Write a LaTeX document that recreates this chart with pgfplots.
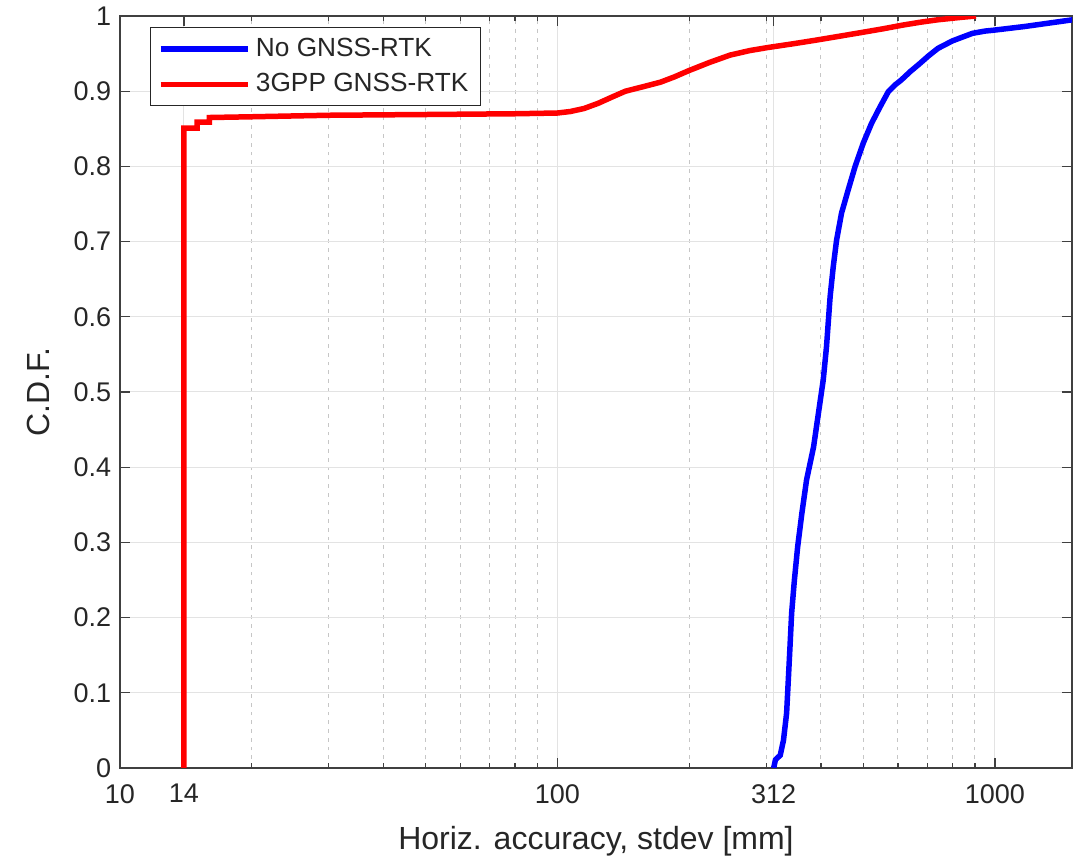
\documentclass[border=0pt]{standalone}
\usepackage{fontspec}
\setmainfont{Liberation Sans}
\usepackage{pgfplots}
\pgfplotsset{compat=1.18}
\definecolor{txtgray}{RGB}{38,38,38}
\definecolor{axgray}{RGB}{64,64,64}
\begin{document}
\begin{tikzpicture}
\begin{semilogxaxis}[
    scale only axis,
    width=380.8pt, height=300.8pt,
    xmin=10, xmax=1500, ymin=0, ymax=1,
    xtick={10,14,100,312,1000},
    xticklabels={10,14,100,312,1000},
    minor xtick={20,30,40,50,60,70,80,90,200,300,400,500,600,700,800,900},
    ytick={0,0.1,0.2,0.3,0.4,0.5,0.6,0.7,0.8,0.9,1},
    yticklabels={0,0.1,0.2,0.3,0.4,0.5,0.6,0.7,0.8,0.9,1},
    grid=both,
    major grid style={draw=gray!22, line width=0.4pt},
    minor grid style={draw=gray!45, line width=0.4pt, dash pattern=on 1.5pt off 2pt},
    tick align=inside,
    major tick length=4pt, minor tick length=2pt,
    axis line style={draw=axgray, line width=0.5pt},
    every tick/.style={draw=axgray, line width=0.5pt},
    tick label style={font=\fontsize{10.8}{13}\selectfont, text=txtgray},
    xticklabel style={yshift=-3pt},
    label style={font=\fontsize{12.8}{15}\selectfont, text=txtgray},
    xlabel={Horiz. accuracy, stdev [mm]},
    ylabel={C.D.F.},
    xlabel style={at={(axis description cs:0.5,-0.0971)}, anchor=center},
    ylabel style={at={(axis description cs:-0.0861,0.5)}, anchor=center},
    legend style={at={(0.0315,0.985)}, anchor=north west, draw=black!85,
        fill=white, font=\fontsize{10.5}{13}\selectfont, text=txtgray,
        row sep=1.5pt, inner xsep=3pt, inner ysep=2pt, cells={anchor=west}},
    legend image code/.code={\draw[#1] (0pt,0pt) -- (35pt,0pt);},
]
\addplot[blue, line width=2.2pt] coordinates {
    (312,0) (315,0.011) (323,0.017) (328.6,0.037) (334,0.073) (337,0.117)
    (340,0.161) (343,0.206) (348,0.25) (354,0.294) (362,0.339) (371,0.383)
    (385,0.427) (395,0.472) (405,0.516) (412,0.56) (420,0.627) (427,0.667)
    (434.5,0.702) (446,0.738) (462,0.769) (479,0.80) (500,0.831) (522,0.857)
    (546,0.879) (570,0.899) (590,0.908) (611,0.915) (640,0.926) (674,0.937)
    (705,0.947) (741,0.957) (800,0.967) (889,0.977) (950,0.980) (989,0.981)
    (1168,0.986) (1506,0.995)
};
\addlegendentry{No GNSS-RTK}
\addplot[red, line width=2.2pt] coordinates {
    (14,0) (14,0.851) (15,0.851) (15,0.859) (16,0.859) (16,0.865) (20,0.866)
    (30,0.868) (50,0.869) (80,0.870) (100,0.871) (107,0.873) (115,0.877)
    (124,0.884) (133,0.892) (143,0.900) (157,0.906) (172,0.912) (185,0.919)
    (199,0.927) (222,0.938) (248,0.948) (275,0.954) (302,0.958) (345,0.963)
    (391,0.968) (440,0.973) (495,0.978) (555,0.983) (617,0.988) (680,0.992)
    (741,0.995) (830,0.998) (905,1.0)
};
\addlegendentry{3GPP GNSS-RTK}
\end{semilogxaxis}
\pgfresetboundingbox
\path ([xshift=-48pt,yshift=-36.4pt]current axis.south west)
    rectangle ([xshift=4.8pt,yshift=6.4pt]current axis.north east);
\end{tikzpicture}
\end{document}
